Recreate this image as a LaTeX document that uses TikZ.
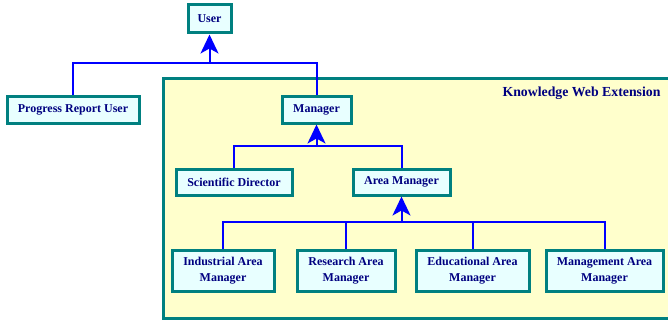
\documentclass[tikz,border=0pt]{standalone}
\usepackage{fontspec}
\setmainfont{Liberation Serif}
\usetikzlibrary{arrows.meta}
\definecolor{frameteal}{RGB}{0,128,128}
\definecolor{boxfill}{RGB}{232,255,255}
\definecolor{areafill}{RGB}{255,255,204}
\definecolor{labelnavy}{RGB}{0,0,128}
\definecolor{linkblue}{RGB}{0,0,255}
\tikzset{
  role/.style={draw=frameteal, fill=boxfill, line width=3pt, inner sep=0pt,
    text=labelnavy, font=\bfseries\fontsize{12}{16}\selectfont, align=center},
  link/.style={draw=linkblue, line width=2pt},
  uparrow/.style={link, -{Stealth[length=19pt, width=18pt, inset=5pt]}},
}
\begin{document}
\begin{tikzpicture}[x=1pt, y=-1pt]
\clip (0,0) rectangle (668,321);
\fill[white] (0,0) rectangle (668,321);
% extension region
\draw[draw=frameteal, fill=areafill, line width=3pt] (163,78) rectangle (690,318);
\node[anchor=east, text=labelnavy, font=\bfseries\fontsize{13.8}{16}\selectfont] (ext) at (664,93) {Knowledge Web Extension};
% roles
\node[role, minimum width=43pt, minimum height=28pt] (user) at (209.5,19) {User};
\node[role, minimum width=132pt, minimum height=27pt] (pru) at (73,109.5) {Progress Report User};
\node[role, minimum width=69pt, minimum height=27pt] (mgr) at (316.5,109.5) {Manager};
\node[role, minimum width=116pt, minimum height=26pt] (sci) at (234,182) {Scientific Director};
\node[role, minimum width=97pt, minimum height=26pt] (area) at (401.5,182) {Area Manager};
\node[role, minimum width=102pt, minimum height=41pt] (ind) at (223,270.5) {Industrial Area\\Manager};
\node[role, minimum width=98pt, minimum height=41pt] (res) at (346,270.5) {Research Area\\Manager};
\node[role, minimum width=113pt, minimum height=41pt] (edu) at (472.5,270.5) {Educational Area\\Manager};
\node[role, minimum width=117pt, minimum height=41pt] (mgt) at (604.5,270.5) {Management Area\\Manager};
% junction points
\coordinate (j1) at (user.south |- 0,63);
\coordinate (j2) at (mgr.south |- 0,146);
\coordinate (j3) at (area.south |- 0,222);
% connectors
\draw[link] (pru.north) |- (j1) -| (mgr.north);
\draw[uparrow] (j1) -- (user.south);
\draw[link] (sci.north) |- (j2) -| (area.north);
\draw[uparrow] (j2) -- (mgr.south);
\draw[link] (ind.north) |- (j3) -| (mgt.north);
\draw[link] (res.north) -- (res.north |- j3);
\draw[link] (edu.north) -- (edu.north |- j3);
\draw[uparrow] (j3) -- (area.south);
\end{tikzpicture}
\end{document}
